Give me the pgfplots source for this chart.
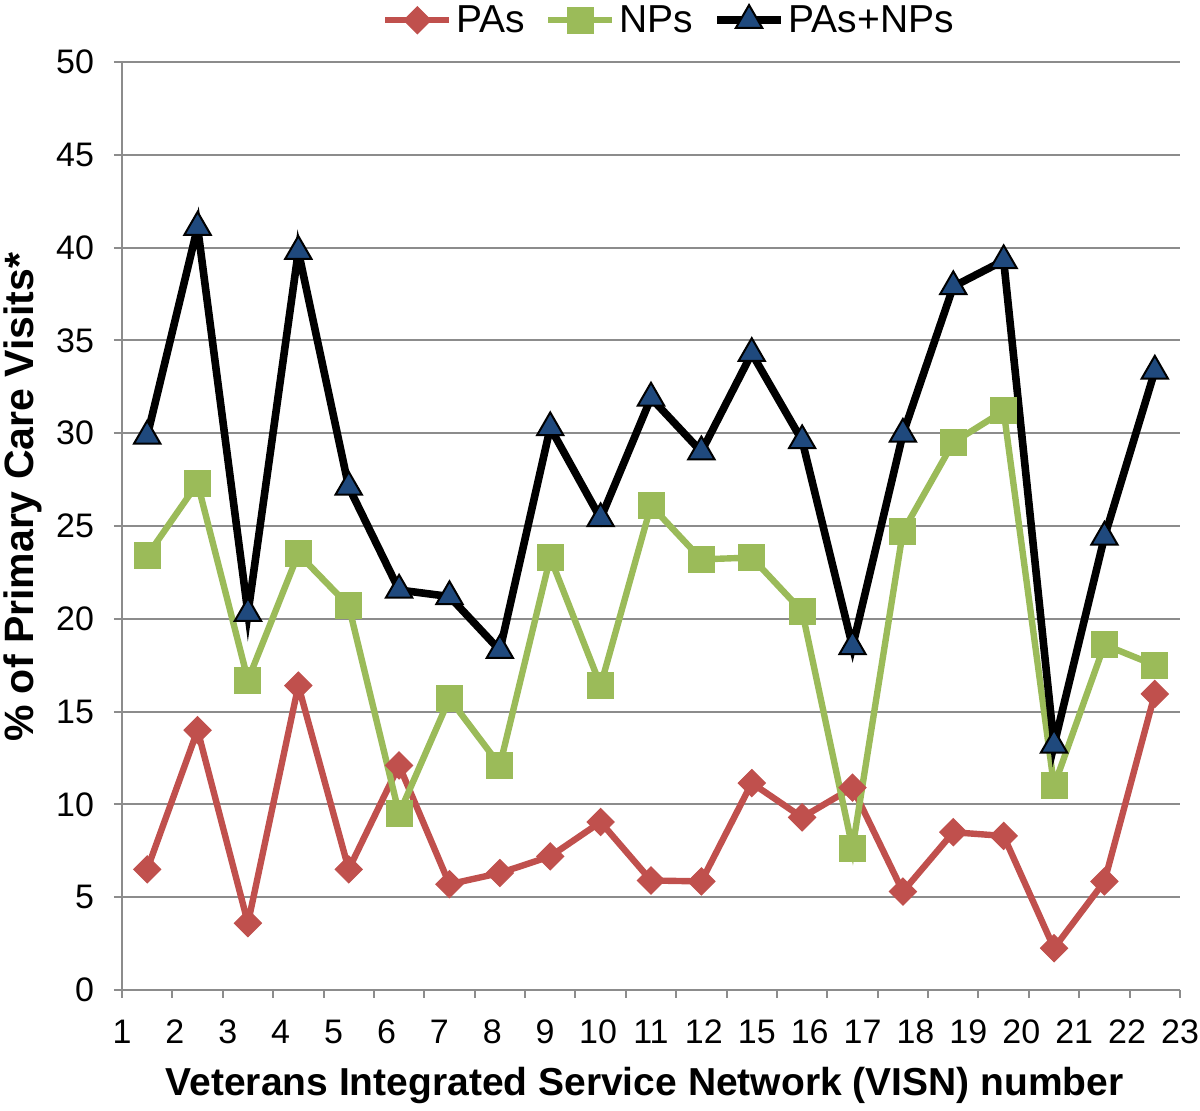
\documentclass[border=0pt]{standalone}
\usepackage{pgfplots}
\pgfplotsset{compat=1.18}
\usepackage{fontspec}
\setmainfont{Liberation Sans}
\definecolor{pared}{HTML}{C0504D}
\definecolor{npgreen}{HTML}{9BBB59}
\definecolor{navy}{HTML}{1F497D}
\definecolor{axgray}{HTML}{8C8C8C}
\begin{document}
\begin{tikzpicture}
\useasboundingbox (-61pt,-60.5pt) rectangle (539pt,495pt);
\begin{axis}[
  at={(0,0)}, anchor=south west,
  width=529pt, height=464pt, scale only axis,
  xmin=0, xmax=21, ymin=0, ymax=50,
  axis x line=bottom, axis y line=left,
  axis line style={-, draw=axgray, line width=1pt},
  xtick={0,...,21}, xticklabels={},
  ytick={0,5,...,50},
  extra x ticks={0,1.05,2.1,3.15,4.2,5.25,6.3,7.35,8.4,9.45,10.5,11.55,12.6,13.65,14.7,15.75,16.8,17.85,18.9,19.95,21},
  extra x tick labels={1,2,3,4,5,6,7,8,9,10,11,12,15,16,17,18,19,20,21,22,23},
  extra x tick style={major tick length=0pt, tick style={draw=none}, xticklabel style={yshift=-11.5pt}},
  yticklabel style={xshift=-6.5pt},
  tick align=outside, major tick length=4pt,
  tick style={draw=axgray, line width=1pt},
  ymajorgrids, grid style={draw=axgray, line width=1pt},
  /pgf/number format/assume math mode=true,
  tick label style={font=\fontsize{17}{17}\selectfont, black},
  xlabel={\textbf{Veterans Integrated Service Network (VISN) number}},
  ylabel={\textbf{\% of Primary Care Visits*}},
  xlabel style={font=\fontsize{19.5}{19.5}\selectfont, at={(axis description cs:0.494,-0.1024)}, anchor=center},
  ylabel style={font=\fontsize{20.5}{20.5}\selectfont, at={(axis description cs:-0.094,0.531)}, anchor=center, rotate=0},
  legend style={at={(axis description cs:0.518,1.045)}, anchor=center, draw=none, fill=none,
    font=\fontsize{19.5}{19.5}\selectfont, legend columns=3,
    /tikz/every even column/.append style={column sep=8pt}},
  legend image code/.code={\draw[#1] (0pt,0pt) -- (16pt,0pt) plot coordinates {(16pt,0pt)} -- (32pt,0pt);},
  clip=false,
]
\addplot[color=pared, line width=3.2pt, mark=square*, mark size=4.8pt, mark options={solid, rotate=45, fill=pared, draw=pared, line width=0.5pt}] coordinates {
(0.5,6.5) (1.5,14.0) (2.5,3.6) (3.5,16.4) (4.5,6.5) (5.5,12.1) (6.5,5.7) (7.5,6.3) (8.5,7.2) (9.5,9.05) (10.5,5.9) (11.5,5.85) (12.5,11.15) (13.5,9.3) (14.5,10.9) (15.5,5.3) (16.5,8.5) (17.5,8.3) (18.5,2.25) (19.5,5.85) (20.5,15.95)};
\addlegendentry{PAs}
\addplot[color=npgreen, line width=3.2pt, mark=square*, mark size=6.5pt, mark options={solid, fill=npgreen, draw=npgreen, line width=0.5pt}] coordinates {
(0.5,23.4) (1.5,27.3) (2.5,16.7) (3.5,23.5) (4.5,20.7) (5.5,9.5) (6.5,15.7) (7.5,12.1) (8.5,23.3) (9.5,16.4) (10.5,26.1) (11.5,23.2) (12.5,23.3) (13.5,20.4) (14.5,7.65) (15.5,24.7) (16.5,29.5) (17.5,31.2) (18.5,11.0) (19.5,18.6) (20.5,17.5)};
\addlegendentry{NPs}
\addplot[color=black, line width=3.8pt, mark=triangle*, mark size=7.6pt, mark options={solid, fill=navy, draw=black, line width=1pt}] coordinates {
(0.5,29.85) (1.5,41.1) (2.5,20.3) (3.5,39.8) (4.5,27.1) (5.5,21.55) (6.5,21.2) (7.5,18.3) (8.5,30.3) (9.5,25.4) (10.5,31.9) (11.5,29.0) (12.5,34.3) (13.5,29.6) (14.5,18.5) (15.5,29.95) (16.5,37.9) (17.5,39.3) (18.5,13.2) (19.5,24.4) (20.5,33.35)};
\addlegendentry{PAs+NPs}
\end{axis}
\end{tikzpicture}
\end{document}
